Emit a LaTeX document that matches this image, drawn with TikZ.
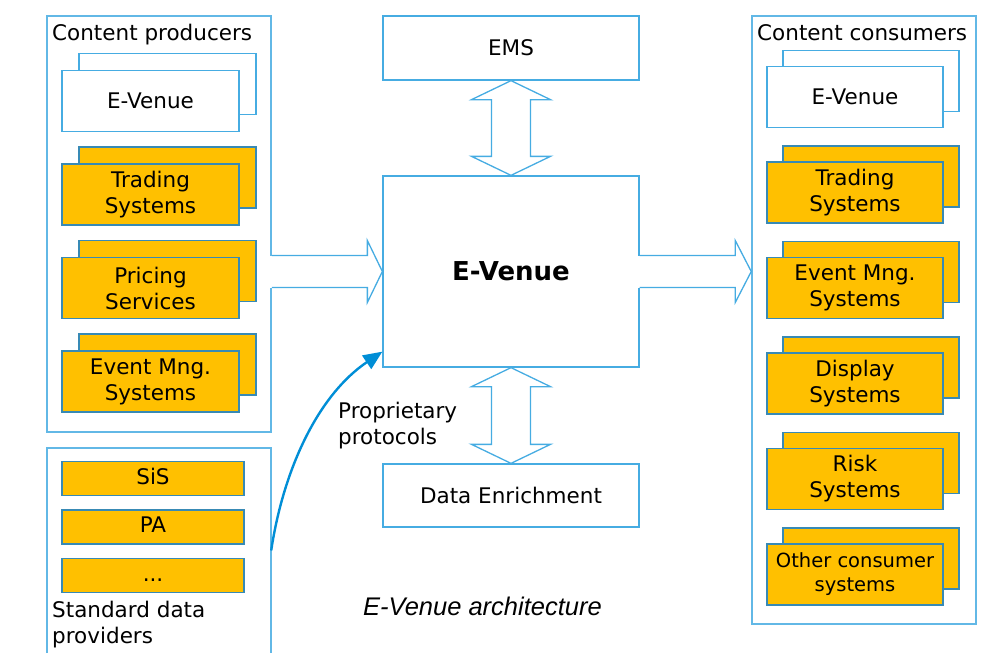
\documentclass[tikz,border=0pt]{standalone}
\usepackage{fontspec}
\setmainfont{DejaVu Sans}
\newfontfamily\capfont{Liberation Sans}
\usetikzlibrary{positioning, arrows.meta, calc, shadows}
\definecolor{edgeblue}{RGB}{70,172,226}
\definecolor{boxyellow}{RGB}{255,192,0}
\definecolor{linkblue}{RGB}{0,142,214}
\tikzset{%
  box/.style={draw=edgeblue, fill=white, line width=1.3pt, inner sep=0pt, align=center},
  ybox/.style={box, fill=boxyellow, draw=edgeblue!80!black}, % yellow system boxes
  group/.style={draw=edgeblue!85, line width=1.5pt, inner sep=0pt},
  hollow/.style={draw=edgeblue, line width=1.3pt, line join=miter},
  lstack/.style={copy shadow={shadow xshift=17pt, shadow yshift=17pt}, minimum width=177pt, minimum height=61pt},
  rstack/.style={copy shadow={shadow xshift=16pt, shadow yshift=16pt}, minimum width=176pt, minimum height=61pt},
  link/.style={draw=linkblue, line width=2.4pt, -{Triangle[length=19pt, width=16pt]}}
}
\begin{document}
\begin{tikzpicture}[x=1pt, y=-1pt, font=\fontsize{21.5}{26}\selectfont]
    \useasboundingbox (0,0) rectangle (995,653);
    % producers
    \node[group, minimum width=224pt, minimum height=416pt] (prod) at (159,224) {};
    \node[anchor=base west, inner sep=0pt] (prodtitle) at (52,40.5) {Content producers};
    \begin{scope}[node distance=93.5pt]
    \node[box, lstack] (p0) at (150.5,101) {E-Venue};
    \node[ybox, lstack, below of=p0] (p1) {Trading\\Systems};
    \node[ybox, lstack, below of=p1] (p2) {Pricing\\Services};
    \node[ybox, lstack, below of=p2] (p3) {Event Mng.\\Systems};
    \end{scope}
    % standard data providers
    \node[minimum width=224pt, minimum height=205pt, inner sep=0pt] (std) at (159,550.5) {};
    \draw[group] (std.south west) |- (std.north east) -- (std.south east);
    \begin{scope}[node distance=48.5pt, every node/.style={ybox, minimum width=182pt, minimum height=34pt, text height=16pt, text depth=5pt}]
    \node (s0) at (153,478.5) {SiS};
    \node[below of=s0] (s1) {PA};
    \node[below of=s1] (s2) {...};
    \end{scope}
    \node[anchor=west, align=left, inner sep=0pt] (stdtitle) at (52,625) {Standard data\\providers};
    % consumers
    \node[group, minimum width=224pt, minimum height=608pt] (cons) at (864,320) {};
    \node[anchor=base west, inner sep=0pt] (constitle) at (757,40.5) {Content consumers};
    \begin{scope}[node distance=95.5pt]
    \node[box, rstack] (c0) at (855,97) {E-Venue};
    \node[ybox, rstack, below of=c0] (c1) {Trading\\Systems};
    \node[ybox, rstack, below of=c1] (c2) {Event Mng.\\Systems};
    \node[ybox, rstack, below of=c2] (c3) {Display\\Systems};
    \node[ybox, rstack, below of=c3] (c4) {Risk\\Systems};
    \node[ybox, rstack, below of=c4, font=\fontsize{19.5}{24}\selectfont] (c5) {Other consumer\\systems};
    \end{scope}
    % middle column
    \node[box, minimum width=256pt, minimum height=64pt] (ems) at (511,48) {EMS};
    \node[box, minimum width=256pt, minimum height=191pt, font=\bfseries\fontsize{26}{31}\selectfont] (core) at (511,271.5) {E-Venue};
    \node[box, minimum width=256pt, minimum height=63pt] (enr) at (511,495.5) {Data Enrichment};
    \node[anchor=west, align=left, inner sep=0pt] (proto) at (338,425.5) {Proprietary\\protocols};
    \node[anchor=base, inner sep=0pt, font=\capfont\itshape\fontsize{25.5}{30}\selectfont] (caption) at (482.5,615) {E-Venue architecture};
    % block arrows
    \fill[white] ($(prod.east |- core.west)+(-1.5,16)$) rectangle ($(core.west)+(-15,-16)$);
    \fill[white] (core.west) -- ++(-15,-31) -- ++(0,62) -- cycle;
    \draw[hollow] (prod.east |- core.west) ++(0,-16) -| ($(core.west)+(-15,-31)$) -- (core.west) -- ++(-15,31) |- ($(prod.east |- core.west)+(0,16)$);
    \fill[white] ($(core.east)+(-1.5,-16)$) rectangle ($(cons.west |- core.east)+(-16,16)$);
    \fill[white] (cons.west |- core.east) -- ++(-16,-31) -- ++(0,62) -- cycle;
    \draw[hollow] (core.east) ++(0,-16) -| ($(cons.west |- core.east)+(-16,-31)$) -- (cons.west |- core.east) -- ++(-16,31) |- ($(core.east)+(0,16)$);
    \filldraw[hollow, fill=white] (ems.south) -- ++(39.5,19) -- ++(-20,0) -- ($(core.north)+(19.5,-19)$) -- ++(20,0) -- (core.north) -- ++(-39.5,-19) -- ++(20,0) -- ($(ems.south)+(-19.5,19)$) -- ++(-20,0) -- cycle;
    \filldraw[hollow, fill=white] (core.south) -- ++(39.5,19) -- ++(-20,0) -- ($(enr.north)+(19.5,-19)$) -- ++(20,0) -- (enr.north) -- ++(-39.5,-19) -- ++(20,0) -- ($(core.south)+(-19.5,19)$) -- ++(-20,0) -- cycle;
    % proprietary link
    \draw[link] (std.east) .. controls ($(std.east)+(12,-80)$) and ($(core.south west)+(-65,28)$) .. ($(core.south west)+(0,-16)$);
\end{tikzpicture}
\end{document}
